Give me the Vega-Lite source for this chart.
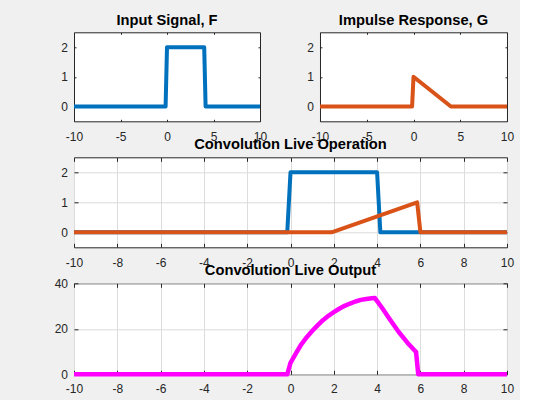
{
  "$schema": "https://vega.github.io/schema/vega-lite/v6.json",
  "background": "#f0f0f0",
  "padding": {"left": 53, "top": 11.3, "right": 5, "bottom": 5},
  "bounds": "full",
  "spacing": -7,
  "config": {
    "view": {"stroke": "#262626", "strokeWidth": 1, "fill": "#ffffff"},
    "axis": {
      "domain": false,
      "ticks": true,
      "tickColor": "#262626",
      "tickWidth": 1,
      "labelFont": "Liberation Sans",
      "labelFontSize": 12,
      "labelColor": "#262626",
      "labelFlush": false,
      "labelOverlap": false,
      "labelBound": false,
      "labelExpr": "replace(datum.label, '\u2212', '-')",
      "grid": false,
      "gridColor": "#dcdcdc",
      "gridWidth": 1
    },
    "title": {
      "font": "Liberation Sans",
      "fontSize": 14.7,
      "fontWeight": "bold",
      "color": "#000000",
      "anchor": "middle",
      "baseline": "alphabetic",
      "offset": 5
    },
    "line": {"strokeWidth": 4, "strokeJoin": "round"}
  },
  "datasets": {
    "F": [
      {"t": -10, "v": 0}, {"t": -0.15, "v": 0}, {"t": 0, "v": 2},
      {"t": 4, "v": 2}, {"t": 4.15, "v": 0}, {"t": 10, "v": 0}
    ],
    "G": [
      {"t": -10, "v": 0}, {"t": -0.15, "v": 0}, {"t": 0, "v": 1},
      {"t": 4, "v": 0}, {"t": 10, "v": 0}
    ],
    "Gflip": [
      {"t": -10, "v": 0}, {"t": 1.9, "v": 0}, {"t": 5.85, "v": 1},
      {"t": 6, "v": 0}, {"t": 10, "v": 0}
    ],
    "Out": [
      {"t": -10, "v": 0}, {"t": -0.15, "v": 0}, {"t": 0, "v": 5},
      {"t": 0.25, "v": 9.2}, {"t": 0.5, "v": 13.2}, {"t": 0.75, "v": 16.3},
      {"t": 1, "v": 19}, {"t": 1.25, "v": 21.5}, {"t": 1.5, "v": 23.8},
      {"t": 1.75, "v": 25.7}, {"t": 2, "v": 27.3}, {"t": 2.25, "v": 28.8},
      {"t": 2.5, "v": 30.1}, {"t": 2.75, "v": 31.1}, {"t": 3, "v": 32},
      {"t": 3.25, "v": 32.7}, {"t": 3.5, "v": 33.1}, {"t": 3.75, "v": 33.4},
      {"t": 3.9, "v": 33.5}, {"t": 4.25, "v": 28.9}, {"t": 4.6, "v": 24},
      {"t": 5, "v": 18.6}, {"t": 5.4, "v": 13.9}, {"t": 5.8, "v": 9.8},
      {"t": 5.9, "v": 0}, {"t": 10, "v": 0}
    ]
  },
  "vconcat": [
    {
      "hconcat": [
        {
          "width": 186,
          "height": 89,
          "title": {"text": "Input Signal, F", "offset": 4.5},
          "layer": [
            {
              "data": {"name": "F"},
              "mark": {"type": "line", "color": "#0072bd"},
              "encoding": {
                "x": {"field": "t", "type": "quantitative", "scale": {"domain": [-10, 10], "nice": false},
                      "axis": {"orient": "bottom", "title": null, "values": [-10, -5, 0, 5, 10], "tickSize": -2, "labelPadding": 12}},
                "y": {"field": "v", "type": "quantitative", "scale": {"domain": [-0.5, 2.5], "nice": false, "zero": false},
                      "axis": {"orient": "left", "title": null, "values": [0, 1, 2], "tickSize": -2, "labelPadding": 8.5}}
              }
            },
            {
              "data": {"name": "F"},
              "mark": {"type": "line", "opacity": 0},
              "encoding": {
                "x": {"field": "t", "type": "quantitative", "scale": {"domain": [-10, 10], "nice": false},
                      "axis": {"orient": "top", "title": null, "labels": false, "values": [-10, -5, 0, 5, 10], "tickSize": -2}},
                "y": {"field": "v", "type": "quantitative", "scale": {"domain": [-0.5, 2.5], "nice": false, "zero": false},
                      "axis": {"orient": "right", "title": null, "labels": false, "values": [0, 1, 2], "tickSize": -2}}
              }
            }
          ],
          "resolve": {"axis": {"x": "independent", "y": "independent"}}
        },
        {
          "width": 187,
          "height": 89,
          "title": {"text": "Impulse Response, G", "offset": 4.5},
          "layer": [
            {
              "data": {"name": "G"},
              "mark": {"type": "line", "color": "#d95319"},
              "encoding": {
                "x": {"field": "t", "type": "quantitative", "scale": {"domain": [-10, 10], "nice": false},
                      "axis": {"orient": "bottom", "title": null, "values": [-10, -5, 0, 5, 10], "tickSize": -2, "labelPadding": 12}},
                "y": {"field": "v", "type": "quantitative", "scale": {"domain": [-0.5, 2.5], "nice": false, "zero": false},
                      "axis": {"orient": "left", "title": null, "values": [0, 1, 2], "tickSize": -2, "labelPadding": 8.5}}
              }
            },
            {
              "data": {"name": "G"},
              "mark": {"type": "line", "opacity": 0},
              "encoding": {
                "x": {"field": "t", "type": "quantitative", "scale": {"domain": [-10, 10], "nice": false},
                      "axis": {"orient": "top", "title": null, "labels": false, "values": [-10, -5, 0, 5, 10], "tickSize": -2}},
                "y": {"field": "v", "type": "quantitative", "scale": {"domain": [-0.5, 2.5], "nice": false, "zero": false},
                      "axis": {"orient": "right", "title": null, "labels": false, "values": [0, 1, 2], "tickSize": -2}}
              }
            }
          ],
          "resolve": {"axis": {"x": "independent", "y": "independent"}}
        }
      ],
      "spacing": 60,
      "bounds": "flush"
    },
    {
      "width": 433,
      "height": 90,
      "title": {"text": "Convolution Live Operation", "offset": 5},
      "layer": [
        {
          "data": {"name": "F"},
          "mark": {"type": "line", "color": "#0072bd"},
          "encoding": {
            "x": {"field": "t", "type": "quantitative", "scale": {"domain": [-10, 10], "nice": false},
                  "axis": {"orient": "bottom", "title": null, "grid": true, "values": [-10, -8, -6, -4, -2, 0, 2, 4, 6, 8, 10], "tickSize": -4, "labelPadding": 14}},
            "y": {"field": "v", "type": "quantitative", "scale": {"domain": [-0.5, 2.5], "nice": false, "zero": false},
                  "axis": {"orient": "left", "title": null, "grid": true, "values": [0, 1, 2], "tickSize": -4, "labelPadding": 10.5}}
          }
        },
        {
          "data": {"name": "Gflip"},
          "mark": {"type": "line", "color": "#d95319"},
          "encoding": {
            "x": {"field": "t", "type": "quantitative", "scale": {"domain": [-10, 10], "nice": false},
                  "axis": {"orient": "top", "title": null, "labels": false, "values": [-10, -8, -6, -4, -2, 0, 2, 4, 6, 8, 10], "tickSize": -4}},
            "y": {"field": "v", "type": "quantitative", "scale": {"domain": [-0.5, 2.5], "nice": false, "zero": false},
                  "axis": {"orient": "right", "title": null, "labels": false, "values": [0, 1, 2], "tickSize": -4}}
          }
        }
      ],
      "resolve": {"axis": {"x": "independent", "y": "independent"}}
    },
    {
      "width": 433,
      "height": 91,
      "title": {"text": "Convolution Live Output", "offset": -0.5},
      "layer": [
        {
          "data": {"name": "Out"},
          "mark": {"type": "line", "color": "#ff00ff", "strokeWidth": 4.5},
          "encoding": {
            "x": {"field": "t", "type": "quantitative", "scale": {"domain": [-10, 10], "nice": false},
                  "axis": {"orient": "bottom", "title": null, "grid": true, "values": [-10, -8, -6, -4, -2, 0, 2, 4, 6, 8, 10], "tickSize": -4, "labelPadding": 13}},
            "y": {"field": "v", "type": "quantitative", "scale": {"domain": [0, 40], "nice": false},
                  "axis": {"orient": "left", "title": null, "grid": true, "values": [0, 20, 40], "tickSize": -4, "labelPadding": 10.5}}
          }
        },
        {
          "data": {"name": "Out"},
          "mark": {"type": "line", "opacity": 0},
          "encoding": {
            "x": {"field": "t", "type": "quantitative", "scale": {"domain": [-10, 10], "nice": false},
                  "axis": {"orient": "top", "title": null, "labels": false, "values": [-10, -8, -6, -4, -2, 0, 2, 4, 6, 8, 10], "tickSize": -4}},
            "y": {"field": "v", "type": "quantitative", "scale": {"domain": [0, 40], "nice": false},
                  "axis": {"orient": "right", "title": null, "labels": false, "values": [0, 20, 40], "tickSize": -4}}
          }
        }
      ],
      "resolve": {"axis": {"x": "independent", "y": "independent"}}
    }
  ]
}
